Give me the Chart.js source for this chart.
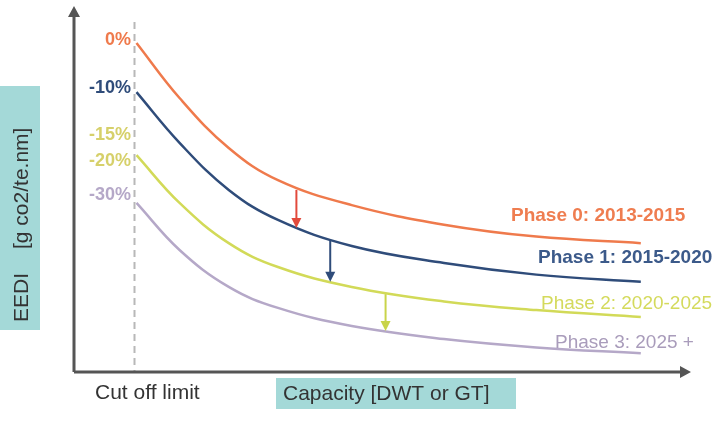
<!DOCTYPE html>
<html>
<head>
<meta charset="utf-8">
<script src="https://cdn.jsdelivr.net/npm/chart.js@4.4.0/dist/chart.umd.min.js"></script>
<style>
  body { margin: 0; background: #fff; }
  #wrap { width: 719px; height: 424px; position: relative; }
</style>
</head>
<body>
<div id="wrap"><canvas id="eediChart"></canvas></div>
<script>
// capacity (arbitrary units) and EEDI reference lines per phase
const capacity = [10, 17, 25, 33, 45, 60, 75, 92];
const phase0 = [90.9, 75.7, 61.9, 53.0, 46.1, 40.7, 37.4, 35.6];
const phase1 = [77.3, 63.3, 50.3, 42.0, 34.8, 30.1, 26.9, 24.9];
const phase2 = [59.9, 46.7, 35.6, 29.0, 23.5, 19.5, 17.1, 15.2];
const phase3 = [46.7, 33.7, 23.5, 17.7, 12.7, 9.1, 6.8, 5.2];

const phaseNames = ['Phase 0: 2013-2015', 'Phase 1: 2015-2020', 'Phase 2: 2020-2025', 'Phase 3: 2025 +'];
const reductionLabels = ['0%', '-10%', '-15%', '-20%', '-30%'];
const cutOff = 10;

// step-down arrows between phases
const arrowAt = [36, 41.5, 50.5];
const arrowFrom = [50.3, 36.2, 21.5];
const arrowTo = [39.8, 24.9, 11.3];

const colors = ['#ef7a4c', '#2f4c7a', '#d2da58', '#b5a8c8'];
const arrowColors = ['#e24a3c', '#2f4c7a', '#c9d44a'];

const toPoints = ys => capacity.map((x, i) => ({ x: x, y: ys[i] }));

const decorations = {
  id: 'decorations',
  beforeDatasetsDraw(chart) {
    const ctx = chart.ctx;
    const xs = chart.scales.x;
    const area = chart.chartArea;
    ctx.save();

    // teal boxes behind axis titles
    ctx.fillStyle = '#a4d9d8';
    ctx.fillRect(0, 86, 40, 244);
    ctx.fillRect(276, 378, 240, 31);

    // cut off dashed line
    const cx = xs.getPixelForValue(cutOff) - 2;
    ctx.strokeStyle = '#b8b8b8';
    ctx.lineWidth = 2;
    ctx.setLineDash([7, 5]);
    ctx.beginPath();
    ctx.moveTo(cx, 22);
    ctx.lineTo(cx, area.bottom);
    ctx.stroke();
    ctx.setLineDash([]);

    // axes with arrow heads
    const ox = area.left - 1, oy = area.bottom;
    ctx.strokeStyle = '#555';
    ctx.fillStyle = '#555';
    ctx.lineWidth = 3;
    ctx.beginPath();
    ctx.moveTo(ox, oy);
    ctx.lineTo(ox, 14);
    ctx.moveTo(ox, oy);
    ctx.lineTo(area.right - 6, oy);
    ctx.stroke();
    ctx.beginPath();
    ctx.moveTo(ox, 6); ctx.lineTo(ox - 6, 17); ctx.lineTo(ox + 6, 17); ctx.closePath();
    ctx.moveTo(area.right + 1, oy); ctx.lineTo(area.right - 10, oy - 6); ctx.lineTo(area.right - 10, oy + 6); ctx.closePath();
    ctx.fill();
    ctx.restore();
  },
  afterDatasetsDraw(chart) {
    const ctx = chart.ctx;
    const xs = chart.scales.x, ys = chart.scales.y;
    ctx.save();

    // arrows
    arrowAt.forEach((a, i) => {
      const x = xs.getPixelForValue(a);
      const y1 = ys.getPixelForValue(arrowFrom[i]);
      const y2 = ys.getPixelForValue(arrowTo[i]);
      ctx.strokeStyle = arrowColors[i];
      ctx.fillStyle = arrowColors[i];
      ctx.lineWidth = 2;
      ctx.beginPath();
      ctx.moveTo(x, y1);
      ctx.lineTo(x, y2 - 8);
      ctx.stroke();
      ctx.beginPath();
      ctx.moveTo(x, y2); ctx.lineTo(x - 5, y2 - 10); ctx.lineTo(x + 5, y2 - 10); ctx.closePath();
      ctx.fill();
    });

    // reduction percentages at the cut off
    const pctColors = [colors[0], colors[1], '#d6d06a', '#d6d06a', '#b5a8c8'];
    const pctY = [40, 88, 135, 161, 195];
    ctx.font = 'bold 18px "Liberation Sans", Arial, sans-serif';
    ctx.textAlign = 'right';
    ctx.textBaseline = 'middle';
    reductionLabels.forEach((t, i) => {
      ctx.fillStyle = pctColors[i];
      ctx.fillText(t, 131, pctY[i]);
    });

    // phase names
    const phaseX = [511, 538, 541, 555];
    const phaseY = [216, 258, 304, 343];
    const phaseFont = ['bold 19px', 'bold 19px', '19px', '19px'];
    const phaseColors = ['#ef7d50', '#3c5a8a', '#d4da5c', '#a99cbb'];
    ctx.textAlign = 'left';
    phaseNames.forEach((t, i) => {
      ctx.font = phaseFont[i] + ' "Liberation Sans", Arial, sans-serif';
      ctx.fillStyle = phaseColors[i];
      ctx.fillText(t, phaseX[i], phaseY[i]);
    });

    // axis titles
    ctx.fillStyle = '#333';
    ctx.font = '21px "Liberation Sans", Arial, sans-serif';
    ctx.fillText('Cut off limit', 95, 393);
    ctx.fillText('Capacity [DWT or GT]', 283, 394);

    ctx.translate(22, 322);
    ctx.rotate(-Math.PI / 2);
    ctx.fillText('EEDI', 0, 0);
    ctx.fillText('[g co2/te.nm]', 73, 0);
    ctx.restore();
  }
};

const ctx = document.getElementById('eediChart').getContext('2d');
const chart = new Chart(ctx, {
  type: 'line',
  data: {
    datasets: [phase0, phase1, phase2, phase3].map((s, i) => ({
      label: phaseNames[i],
      data: toPoints(s),
      borderColor: colors[i],
      borderWidth: 2.5,
      pointRadius: 0,
      fill: false,
      tension: 0.4
    }))
  },
  options: {
    responsive: true,
    maintainAspectRatio: false,
    animation: false,
    layout: { padding: { left: 75, right: 29, top: 10, bottom: 52 } },
    scales: {
      x: { type: 'linear', min: 0, max: 100, display: false },
      y: { min: 0, max: 100, display: false }
    },
    plugins: { legend: { display: false }, tooltip: { enabled: false } }
  },
  plugins: [decorations]
});
</script>
</body>
</html>
